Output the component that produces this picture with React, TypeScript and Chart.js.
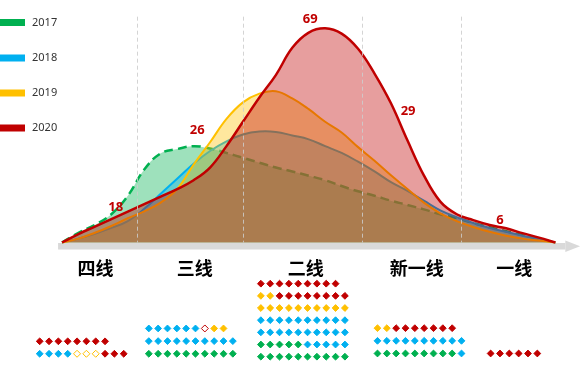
import React, { useEffect, useRef } from 'react';
import { Chart, registerables } from 'chart.js';

Chart.register(...registerables);

// ---------- data ----------
const years = ['2017', '2018', '2019', '2020'];
const yearColors = ['#00B050', '#00B0F0', '#FFC000', '#C00000'];
const yearFills = ['rgba(0,176,80,0.38)', 'rgba(0,176,240,0.38)', 'rgba(255,192,0,0.38)', 'rgba(192,0,0,0.38)'];

const tiers = ['四线', '三线', '二线', '新一线', '一线'];
const tierCenters = [2.03, 8.07, 14.82, 21.57, 27.49];
const tierBoundaries = [4.54, 11.0, 18.23, 24.26];

const curveX = [0, 1, 2, 3, 4, 5, 6, 7, 8, 9, 10, 11, 12, 13, 14, 15, 16, 17, 18, 19, 20, 21, 22, 23, 24, 25, 26, 27, 28, 29, 30];
const s2017 = [0, 5, 9, 14.5, 24, 37.5, 45.8, 48, 49.5, 48.3, 46, 43.5, 41, 38.5, 36.5, 34.3, 32, 29, 26.3, 24, 21.5, 19.3, 17, 14.5, 12.5, 10, 7.8, 5.8, 3.8, 1.8, 0];
const s2018 = [0, 2, 4.5, 7.5, 11, 17.3, 25, 32.8, 40.5, 47, 52, 55.5, 57, 56.8, 55, 53, 49.5, 46, 41.5, 36.5, 31, 26.5, 21.5, 16.5, 13, 10, 7.5, 5.5, 3.5, 1.8, 0];
const s2019 = [0, 2, 5, 8.5, 12.5, 16, 20.5, 27.5, 40, 51.5, 63.5, 72, 76.5, 77.7, 74, 68.5, 62, 56.5, 49, 42, 34.5, 27.5, 20.5, 15, 11, 8, 5.5, 3.5, 2, 1, 0];
const s2020 = [0, 4.35, 8.2, 12.05, 15.9, 19.75, 23.6, 27.45, 32, 38.5, 49.5, 62, 74.5, 86, 100, 107.8, 110, 107.3, 99.5, 86.8, 71.5, 52.5, 34.5, 21, 14.5, 11.5, 9, 7.3, 4.8, 2.5, 0];
const series = [s2017, s2018, s2019, s2020];

const valueLabels = ['18', '26', '69', '29', '6'];
const valueLabelX = [3.26, 8.22, 15.09, 21.04, 26.62];
const valueLabelY = [18, 57.65, 114.5, 67.65, 11.35];

// diamond grids per tier, top row first. Upper case = filled, lower case = hollow
const tierGrids = [
  ['RRRRRRRR', 'BBBByyyRRR'],
  ['BBBBBBrYY', 'BBBBBBBBBB', 'GGGGGGGGGG'],
  ['RRRRRRRRR', 'YYRRRRRRRR', 'YYYYYYYYYY', 'BBBBBBBBBB', 'BBBBBBBBBB', 'GGGGGBBBBB', 'GGGGGGGGGG'],
  ['YYRRRRRRR', 'BBBBBBBBBB', 'GGGGGGGGGB'],
  ['RRRRRR'],
];

// ---------- layout ----------
const gridStartX = [-1.357, 5.277, 12.09, 19.18, 26.06];
const gridBottomY = [-57.15, -57.15, -58.65, -57, -57];
const gridRowStep = [6.4, 6.5, 6.25, 6.5, 6.5];
const GRID_COL_STEP = 0.5677;
const codeColor: Record<string, string> = { R: '#C00000', Y: '#FFC000', B: '#00B0F0', G: '#00B050' };

function buildDiamonds() {
  const pts: { x: number; y: number }[] = [];
  const bg: string[] = [];
  const bd: string[] = [];
  const rad: number[] = [];
  tierGrids.forEach((rows, t) => {
    const n = rows.length;
    rows.forEach((row, r) => {
      const y = gridBottomY[t] + (n - 1 - r) * gridRowStep[t];
      row.split('').forEach((code, c) => {
        const col = codeColor[code.toUpperCase()];
        const hollow = code !== code.toUpperCase();
        pts.push({ x: gridStartX[t] + c * GRID_COL_STEP, y });
        bg.push(hollow ? '#FFFFFF' : col);
        bd.push(col);
        rad.push(hollow ? 3.5 : 3.4);
      });
    });
  });
  return { pts, bg, bd, rad };
}

const decorPlugin = {
  id: 'decor',
  beforeDatasetsDraw(chart: any) {
    const { ctx, scales } = chart;
    const xs = scales.x;
    const ys = scales.y;
    const y0 = ys.getPixelForValue(0);
    ctx.save();
    ctx.fillStyle = '#D9D9D9';
    const left = xs.getPixelForValue(-0.24);
    const headX = xs.getPixelForValue(30.6);
    const tipX = xs.getPixelForValue(31.5);
    ctx.fillRect(left, y0 + 0.5, headX - left, 6.5);
    ctx.beginPath();
    ctx.moveTo(headX, y0 - 2);
    ctx.lineTo(tipX, y0 + 3.75);
    ctx.lineTo(headX, y0 + 9.5);
    ctx.closePath();
    ctx.fill();
    ctx.restore();
  },
  afterDatasetsDraw(chart: any) {
    const { ctx, scales } = chart;
    const xs = scales.x;
    const ys = scales.y;
    ctx.save();
    // tier boundary dashed lines
    ctx.strokeStyle = 'rgba(205,205,205,0.85)';
    ctx.lineWidth = 1;
    ctx.setLineDash([4, 3]);
    tierBoundaries.forEach((b) => {
      const px = Math.round(xs.getPixelForValue(b)) + 0.5;
      ctx.beginPath();
      ctx.moveTo(px, ys.getPixelForValue(116));
      ctx.lineTo(px, ys.getPixelForValue(0));
      ctx.stroke();
    });
    ctx.setLineDash([]);

    // legend
    const legendY = [22.5, 58, 93, 128];
    ctx.font = '11px "Noto Sans"';
    ctx.textBaseline = 'middle';
    ctx.textAlign = 'left';
    years.forEach((yr, i) => {
      ctx.fillStyle = yearColors[i];
      ctx.fillRect(0, legendY[i] - 3.5, 25, 7);
      ctx.fillStyle = '#333333';
      ctx.fillText(yr, 32, legendY[i]);
    });

    // tier labels
    ctx.font = 'bold 18px "Noto Sans CJK SC"';
    ctx.textAlign = 'center';
    ctx.fillStyle = '#000000';
    tiers.forEach((t, i) => {
      ctx.fillText(t, xs.getPixelForValue(tierCenters[i]), ys.getPixelForValue(-13));
    });

    // value labels
    ctx.font = 'bold 13px "Noto Sans"';
    ctx.fillStyle = '#C00000';
    valueLabels.forEach((v, i) => {
      ctx.fillText(v, xs.getPixelForValue(valueLabelX[i]), ys.getPixelForValue(valueLabelY[i]));
    });
    ctx.restore();
  },
};

export default function App() {
  const ref = useRef<HTMLCanvasElement>(null);
  useEffect(() => {
    if (!ref.current) return;
    const d = buildDiamonds();
    const lineSets = years.map((yr, i) => ({
      type: 'line' as const,
      label: yr,
      data: curveX.map((x, k) => ({ x, y: series[i][k] })),
      borderColor: yearColors[i],
      backgroundColor: yearFills[i],
      borderWidth: i === 3 ? 2.5 : i === 0 ? 2.5 : 2,
      borderDash: i === 0 ? [9, 5] : [],
      fill: 'origin',
      pointRadius: 0,
      tension: 0.4,
      order: 3 - i,
    }));
    const chart = new Chart(ref.current, {
      type: 'line',
      data: {
        datasets: [
          ...lineSets,
          {
            type: 'scatter' as const,
            label: 'tiers',
            data: d.pts,
            pointStyle: 'rectRot',
            pointBackgroundColor: d.bg,
            pointBorderColor: d.bd,
            pointBorderWidth: 1,
            pointRadius: d.rad,
            order: -1,
          } as any,
        ],
      },
      options: {
        animation: false,
        responsive: true,
        maintainAspectRatio: false,
        events: [],
        layout: { padding: 0 },
        plugins: { legend: { display: false }, tooltip: { enabled: false } },
        scales: {
          x: { type: 'linear', min: -3.4661, max: 31.5538, display: false },
          y: { type: 'linear', min: -66, max: 122, display: false },
        },
      },
      plugins: [decorPlugin],
    } as any);
    return () => chart.destroy();
  }, []);
  return (
    <div style={{ position: 'absolute', left: 0, top: 0, width: 586, height: 376 }}>
      <canvas ref={ref} />
    </div>
  );
}
